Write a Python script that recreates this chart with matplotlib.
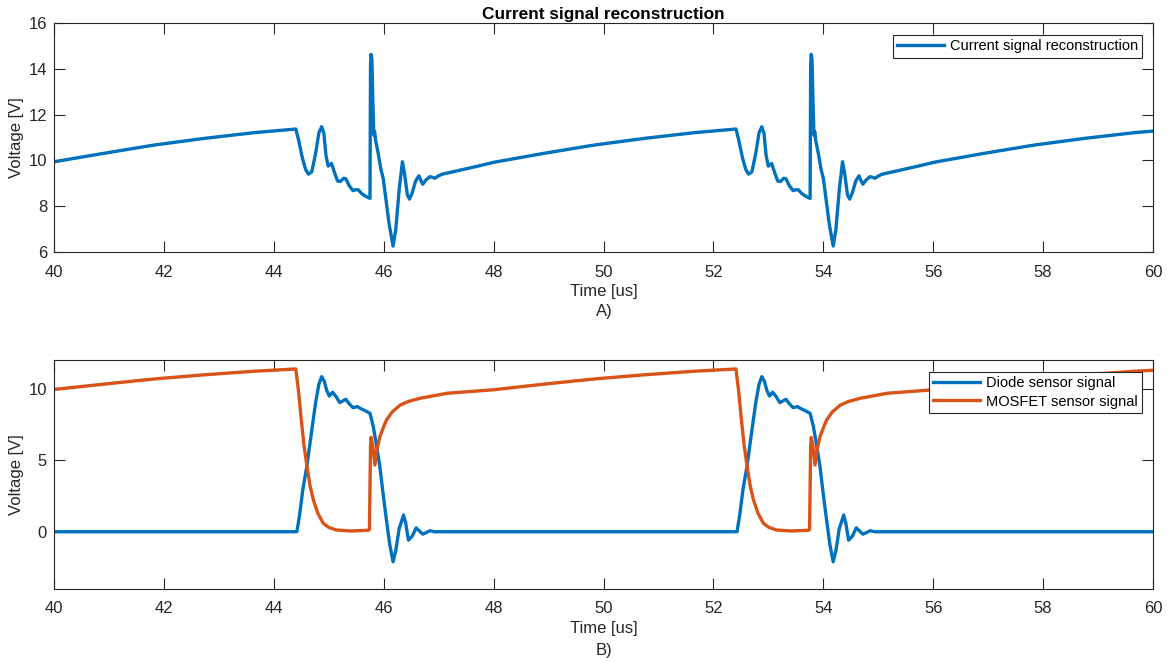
import numpy as np
import matplotlib.pyplot as plt

plt.rcParams['font.family'] = ['Liberation Sans', 'DejaVu Sans']

BLUE = '#0072BD'
ORANGE = '#D95319'
GREY = '#262626'

# top panel: reconstructed current signal (t in us, v in V)
rec_t = [40.00, 40.91, 41.82, 42.73, 43.64, 44.40, 44.45, 44.52, 44.58, 44.63,
         44.69, 44.76, 44.82, 44.87, 44.91, 44.95, 44.99, 45.05, 45.10, 45.16,
         45.21, 45.27, 45.31, 45.37, 45.44, 45.49, 45.54, 45.60, 45.66, 45.75,
         45.76, 45.77, 45.785, 45.80, 45.82, 45.835, 45.85, 45.90, 45.95, 45.99,
         46.05, 46.10, 46.17, 46.22, 46.28, 46.34, 46.38, 46.43, 46.47, 46.52,
         46.58, 46.64, 46.68, 46.71, 46.77, 46.84, 46.89, 46.93, 46.98, 47.05,
         47.40, 47.75, 48.01, 48.92, 49.83, 50.74, 51.65, 52.41, 52.46, 52.53,
         52.59, 52.64, 52.70, 52.77, 52.83, 52.88, 52.92, 52.96, 53.00, 53.06,
         53.11, 53.17, 53.22, 53.28, 53.32, 53.38, 53.45, 53.50, 53.55, 53.61,
         53.67, 53.76, 53.77, 53.78, 53.795, 53.81, 53.83, 53.845, 53.86, 53.91,
         53.96, 54.00, 54.06, 54.11, 54.18, 54.23, 54.29, 54.35, 54.39, 54.44,
         54.48, 54.53, 54.59, 54.65, 54.69, 54.72, 54.78, 54.85, 54.90, 54.94,
         54.99, 55.06, 55.41, 55.76, 56.02, 56.93, 57.84, 58.75, 59.66, 60.00]
rec_v = [9.94, 10.31, 10.67, 10.96, 11.21, 11.37, 10.90, 10.10, 9.60, 9.40,
         9.50, 10.30, 11.20, 11.47, 11.20, 10.20, 9.75, 9.87, 9.50, 9.10,
         9.08, 9.22, 9.20, 8.90, 8.68, 8.72, 8.71, 8.55, 8.45, 8.34,
         14.20, 14.63, 14.40, 12.80, 11.10, 11.25, 10.90, 10.30, 9.60, 9.22,
         8.10, 7.20, 6.26, 7.00, 8.70, 9.94, 9.40, 8.50, 8.31, 8.60,
         9.10, 9.33, 9.10, 8.96, 9.15, 9.29, 9.26, 9.22, 9.30, 9.39,
         9.58, 9.77, 9.92, 10.31, 10.67, 10.96, 11.21, 11.37, 10.90, 10.10,
         9.60, 9.40, 9.50, 10.30, 11.20, 11.47, 11.20, 10.20, 9.75, 9.87,
         9.50, 9.10, 9.08, 9.22, 9.20, 8.90, 8.68, 8.72, 8.71, 8.55,
         8.45, 8.34, 14.20, 14.63, 14.40, 12.80, 11.10, 11.25, 10.90, 10.30,
         9.60, 9.22, 8.10, 7.20, 6.26, 7.00, 8.70, 9.94, 9.40, 8.50,
         8.31, 8.60, 9.10, 9.33, 9.10, 8.96, 9.15, 9.29, 9.26, 9.22,
         9.30, 9.39, 9.58, 9.77, 9.92, 10.31, 10.67, 10.96, 11.21, 11.28]

# bottom panel: diode sensor signal
diode_t = [40.00, 44.42, 44.47, 44.53, 44.60, 44.68, 44.76, 44.82, 44.87, 44.92,
           44.96, 45.01, 45.07, 45.13, 45.20, 45.26, 45.31, 45.37, 45.44, 45.48,
           45.52, 45.59, 45.66, 45.75, 45.81, 45.87, 45.93, 45.99, 46.05, 46.11,
           46.17, 46.22, 46.28, 46.36, 46.40, 46.45, 46.52, 46.59, 46.65, 46.71,
           46.78, 46.84, 46.92, 47.00,
           52.43, 52.48, 52.54, 52.61, 52.69, 52.77, 52.83, 52.88, 52.93,
           52.97, 53.02, 53.08, 53.14, 53.21, 53.27, 53.32, 53.38, 53.45, 53.49,
           53.53, 53.60, 53.67, 53.76, 53.82, 53.88, 53.94, 54.00, 54.06, 54.12,
           54.18, 54.23, 54.29, 54.37, 54.41, 54.46, 54.53, 54.60, 54.66, 54.72,
           54.79, 54.85, 54.93, 55.01, 60.00]
diode_v = [0.00, 0.00, 1.20, 3.00, 4.54, 6.80, 9.00, 10.30, 10.83, 10.50,
           9.90, 9.48, 9.74, 9.45, 9.02, 9.15, 9.25, 8.95, 8.67, 8.70,
           8.74, 8.58, 8.46, 8.27, 7.34, 6.00, 4.54, 2.60, 0.81, -0.90,
           -2.10, -1.30, 0.20, 1.16, 0.60, -0.59, -0.30, 0.27, 0.05, -0.17,
           -0.05, 0.07, 0.00, 0.00,
           0.00, 1.20, 3.00, 4.54, 6.80, 9.00, 10.30, 10.83, 10.50,
           9.90, 9.48, 9.74, 9.45, 9.02, 9.15, 9.25, 8.95, 8.67, 8.70,
           8.74, 8.58, 8.46, 8.27, 7.34, 6.00, 4.54, 2.60, 0.81, -0.90,
           -2.10, -1.30, 0.20, 1.16, 0.60, -0.59, -0.30, 0.27, 0.05, -0.17,
           -0.05, 0.07, 0.00, 0.00, 0.00]

# bottom panel: MOSFET sensor signal
mos_t = [40.00, 40.91, 41.82, 42.73, 43.64, 44.40, 44.45, 44.50, 44.55, 44.60,
         44.66, 44.72, 44.80, 44.90, 45.00, 45.14, 45.40, 45.72, 45.74, 45.76,
         45.77, 45.80, 45.84, 45.88, 45.93, 46.00, 46.05, 46.15, 46.30, 46.45,
         46.66, 47.15, 48.01, 48.92, 49.83, 50.74, 51.65, 52.41, 52.46, 52.51,
         52.56, 52.61, 52.67, 52.73, 52.81, 52.91, 53.01, 53.15, 53.41, 53.73,
         53.75, 53.77, 53.78, 53.81, 53.85, 53.89, 53.94, 54.01, 54.06, 54.16,
         54.31, 54.46, 54.67, 55.16, 56.02, 56.93, 57.84, 58.75, 59.66, 60.00]
mos_v = [9.94, 10.31, 10.67, 10.96, 11.21, 11.37, 9.80, 7.80, 6.00, 4.66,
         3.20, 2.22, 1.30, 0.59, 0.30, 0.12, 0.05, 0.10, 0.15, 6.00,
         6.59, 6.00, 4.66, 5.80, 6.64, 7.35, 7.80, 8.35, 8.85, 9.10,
         9.32, 9.67, 9.92, 10.31, 10.67, 10.96, 11.21, 11.37, 9.80, 7.80,
         6.00, 4.66, 3.20, 2.22, 1.30, 0.59, 0.30, 0.12, 0.05, 0.10,
         0.15, 6.00, 6.59, 6.00, 4.66, 5.80, 6.64, 7.35, 7.80, 8.35,
         8.85, 9.10, 9.32, 9.67, 9.92, 10.31, 10.67, 10.96, 11.21, 11.28]

x_ticks = np.arange(40, 61, 2)


def style_axes(ax):
    ax.set_xlim(40, 60)
    ax.set_xticks(x_ticks)
    ax.tick_params(direction='in', length=8, width=0.8, colors=GREY,
                   labelsize=12, top=True, right=True)
    ax.tick_params(axis='x', pad=9)
    ax.tick_params(axis='y', pad=5)
    for sp in ax.spines.values():
        sp.set_color(GREY)
        sp.set_linewidth(0.8)
    ax.set_xlabel('Time [us]', fontsize=12, color=GREY)
    ax.xaxis.set_label_coords(0.5, -0.173)
    ax.xaxis.label.set_va('center')
    ax.set_ylabel('Voltage [V]', fontsize=12, color=GREY)
    ax.yaxis.set_label_coords(-0.034, 0.5)
    ax.yaxis.label.set_va('center')


def make_legend(ax, anchor):
    leg = ax.legend(loc='upper right', fontsize=10.5, fancybox=False, framealpha=1,
                    edgecolor=GREY, handlelength=3.2, handletextpad=0.4,
                    borderpad=0.3, labelspacing=0.3, borderaxespad=0,
                    bbox_to_anchor=anchor)
    leg.get_frame().set_linewidth(0.8)
    return leg


fig = plt.figure(figsize=(11.67, 6.62), dpi=100)
ax1 = fig.add_axes([0.0463, 0.6193, 0.9417, 0.346])
ax2 = fig.add_axes([0.0463, 0.1103, 0.9417, 0.346])

ax1.plot(rec_t, rec_v, color=BLUE, linewidth=2.4, solid_joinstyle='round',
         label='Current signal reconstruction')
ax1.set_ylim(6, 16)
ax1.set_yticks([6, 8, 10, 12, 14, 16])
style_axes(ax1)
ax1.set_title('Current signal reconstruction', fontsize=12.4, fontweight='bold',
              color='black', pad=3)
make_legend(ax1, (0.990, 0.948))

ax2.plot(diode_t, diode_v, color=BLUE, linewidth=2.4, solid_joinstyle='round',
         label='Diode sensor signal')
ax2.plot(mos_t, mos_v, color=ORANGE, linewidth=2.4, solid_joinstyle='round',
         label='MOSFET sensor signal')
ax2.set_ylim(-4, 12)
ax2.set_yticks([0, 5, 10])
style_axes(ax2)
make_legend(ax2, (0.990, 0.948))

fig.text(0.5175, 1 - 311.7 / 662, 'A)', ha='center', va='center', fontsize=12, color=GREY)
fig.text(0.5175, 1 - 650 / 662, 'B)', ha='center', va='center', fontsize=12, color=GREY)

fig.savefig('out.png', dpi=100)
